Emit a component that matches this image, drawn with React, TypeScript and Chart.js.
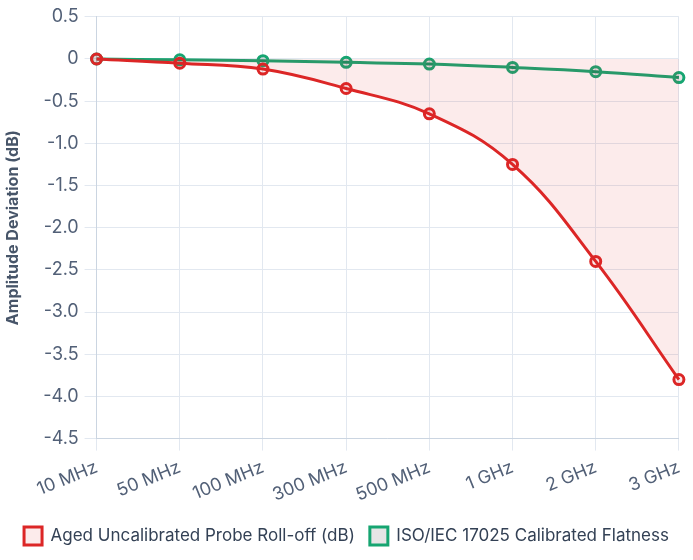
import React, { useRef, useEffect } from 'react';
import { Chart, registerables } from 'chart.js';

Chart.register(...registerables);

const frequencies = ['10 MHz', '50 MHz', '100 MHz', '300 MHz', '500 MHz', '1 GHz', '2 GHz', '3 GHz'];
const agedProbe = [0, -0.05, -0.12, -0.35, -0.65, -1.25, -2.4, -3.8];
const calibrated = [0, -0.01, -0.02, -0.04, -0.06, -0.1, -0.15, -0.22];

const FONT = 'Inter, "Noto Sans", sans-serif';

const App: React.FC = () => {
  const canvasRef = useRef<HTMLCanvasElement | null>(null);

  useEffect(() => {
    const ctx = canvasRef.current!.getContext('2d')!;
    const chart = new Chart(ctx, {
      type: 'line',
      data: {
        labels: frequencies,
        datasets: [
          {
            label: 'Aged Uncalibrated Probe Roll-off (dB)',
            data: agedProbe,
            borderColor: '#dc2626',
            backgroundColor: 'rgba(220, 38, 38, 0.09)',
            borderWidth: 3,
            pointRadius: 5,
            pointBorderWidth: 3,
            fill: 'origin',
            tension: 0.4,
          },
          {
            label: 'ISO/IEC 17025 Calibrated Flatness',
            data: calibrated,
            borderColor: '#16a571',
            backgroundColor: 'rgba(0, 0, 0, 0.1)',
            borderWidth: 3,
            pointRadius: 5,
            pointBorderWidth: 3,
            fill: false,
            tension: 0.4,
          },
        ],
      },
      options: {
        responsive: true,
        maintainAspectRatio: false,
        animation: false,
        layout: { padding: { top: 6, right: 0, bottom: 5 } },
        plugins: {
          legend: {
            position: 'bottom',
            labels: {
              boxWidth: 18,
              boxHeight: 18,
              padding: 15,
              color: '#334155',
              font: { family: FONT, size: 17 },
            },
          },
          tooltip: { enabled: false },
        },
        scales: {
          x: {
            grid: { color: '#e2e8f0', tickLength: 12 },
            border: { color: '#cbd5e1' },
            ticks: {
              color: '#526077',
              font: { family: FONT, size: 18 },
              padding: 6,
              minRotation: 22,
              maxRotation: 22,
            },
          },
          y: {
            min: -4.5,
            max: 0.5,
            grid: { color: '#e2e8f0', tickLength: 12 },
            border: { color: '#cbd5e1' },
            ticks: {
              stepSize: 0.5,
              padding: 6,
              color: '#526077',
              font: { family: FONT, size: 18 },
              callback: (v) => (Number(v) === 0 ? '0' : Number(v).toFixed(1)),
            },
            title: {
              display: true,
              text: 'Amplitude Deviation (dB)',
              color: '#475569',
              padding: { top: 4, bottom: 14 },
              font: { family: FONT, size: 16, weight: 'bold' },
            },
          },
        },
      },
    });
    return () => chart.destroy();
  }, []);

  return (
    <div style={{ position: 'absolute', left: 0, top: 0, width: '693px', height: '560px' }}>
      <canvas ref={canvasRef} />
    </div>
  );
};

export default App;
